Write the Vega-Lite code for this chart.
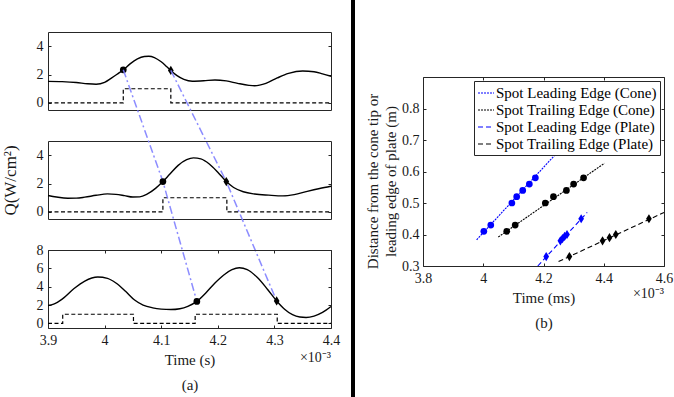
{
  "$schema": "https://vega.github.io/schema/vega-lite/v6.json",
  "background": "white",
  "padding": 0,
  "config": {
    "font": "Liberation Serif",
    "view": {"stroke": "#262626", "strokeWidth": 1},
    "axis": {"domain": false, "grid": false, "ticks": true, "tickSize": -3, "tickColor": "#262626", "tickWidth": 1, "labelFont": "Liberation Serif", "labelFontSize": 14, "labelColor": "#1a1a1a", "titleFont": "Liberation Serif", "titleFontSize": 15, "titleFontWeight": "normal", "titleColor": "#1a1a1a", "format": "~g", "labelFlush": false, "labelOverlap": false},
    "legend": {"orient": "top-right", "offset": 4, "strokeColor": "#262626", "fillColor": "white", "padding": 3, "labelFont": "Liberation Serif", "labelFontSize": 15, "labelColor": "black", "symbolType": "stroke", "symbolSize": 256, "rowPadding": 0, "symbolStrokeWidth": 1.2, "labelOffset": 1, "labelLimit": 400, "cornerRadius": 0}
  },
  "datasets": {
    "curves": [
      {"p": "top", "x": 3.900, "y": 1.52}, {"p": "top", "x": 3.925, "y": 1.50}, {"p": "top", "x": 3.950, "y": 1.44}, {"p": "top", "x": 3.970, "y": 1.35}, {"p": "top", "x": 3.985, "y": 1.32}, {"p": "top", "x": 4.000, "y": 1.45}, {"p": "top", "x": 4.012, "y": 1.75}, {"p": "top", "x": 4.022, "y": 2.02}, {"p": "top", "x": 4.033, "y": 2.33}, {"p": "top", "x": 4.045, "y": 2.75}, {"p": "top", "x": 4.058, "y": 3.10}, {"p": "top", "x": 4.070, "y": 3.27}, {"p": "top", "x": 4.078, "y": 3.29}, {"p": "top", "x": 4.088, "y": 3.20}, {"p": "top", "x": 4.100, "y": 2.90}, {"p": "top", "x": 4.110, "y": 2.55}, {"p": "top", "x": 4.117, "y": 2.29}, {"p": "top", "x": 4.128, "y": 1.92}, {"p": "top", "x": 4.140, "y": 1.66}, {"p": "top", "x": 4.155, "y": 1.53}, {"p": "top", "x": 4.175, "y": 1.56}, {"p": "top", "x": 4.195, "y": 1.62}, {"p": "top", "x": 4.215, "y": 1.55}, {"p": "top", "x": 4.235, "y": 1.38}, {"p": "top", "x": 4.255, "y": 1.24}, {"p": "top", "x": 4.265, "y": 1.21}, {"p": "top", "x": 4.285, "y": 1.38}, {"p": "top", "x": 4.305, "y": 1.76}, {"p": "top", "x": 4.325, "y": 2.08}, {"p": "top", "x": 4.350, "y": 2.25}, {"p": "top", "x": 4.370, "y": 2.20}, {"p": "top", "x": 4.385, "y": 2.05}, {"p": "top", "x": 4.400, "y": 1.88},
      {"p": "mid", "x": 3.900, "y": 1.16}, {"p": "mid", "x": 3.915, "y": 1.05}, {"p": "mid", "x": 3.935, "y": 0.96}, {"p": "mid", "x": 3.950, "y": 0.97}, {"p": "mid", "x": 3.965, "y": 1.04}, {"p": "mid", "x": 3.985, "y": 1.17}, {"p": "mid", "x": 4.005, "y": 1.27}, {"p": "mid", "x": 4.020, "y": 1.24}, {"p": "mid", "x": 4.035, "y": 1.15}, {"p": "mid", "x": 4.050, "y": 1.05}, {"p": "mid", "x": 4.062, "y": 1.06}, {"p": "mid", "x": 4.075, "y": 1.25}, {"p": "mid", "x": 4.090, "y": 1.66}, {"p": "mid", "x": 4.103, "y": 2.14}, {"p": "mid", "x": 4.115, "y": 2.65}, {"p": "mid", "x": 4.130, "y": 3.28}, {"p": "mid", "x": 4.145, "y": 3.68}, {"p": "mid", "x": 4.157, "y": 3.81}, {"p": "mid", "x": 4.170, "y": 3.74}, {"p": "mid", "x": 4.185, "y": 3.38}, {"p": "mid", "x": 4.200, "y": 2.80}, {"p": "mid", "x": 4.215, "y": 2.14}, {"p": "mid", "x": 4.228, "y": 1.72}, {"p": "mid", "x": 4.245, "y": 1.42}, {"p": "mid", "x": 4.265, "y": 1.26}, {"p": "mid", "x": 4.290, "y": 1.18}, {"p": "mid", "x": 4.315, "y": 1.13}, {"p": "mid", "x": 4.335, "y": 1.22}, {"p": "mid", "x": 4.358, "y": 1.45}, {"p": "mid", "x": 4.380, "y": 1.65}, {"p": "mid", "x": 4.400, "y": 1.81},
      {"p": "bot", "x": 3.900, "y": 1.95}, {"p": "bot", "x": 3.910, "y": 2.10}, {"p": "bot", "x": 3.925, "y": 2.65}, {"p": "bot", "x": 3.946, "y": 3.80}, {"p": "bot", "x": 3.965, "y": 4.62}, {"p": "bot", "x": 3.988, "y": 5.05}, {"p": "bot", "x": 4.005, "y": 4.90}, {"p": "bot", "x": 4.020, "y": 4.40}, {"p": "bot", "x": 4.037, "y": 3.50}, {"p": "bot", "x": 4.053, "y": 2.55}, {"p": "bot", "x": 4.068, "y": 2.00}, {"p": "bot", "x": 4.085, "y": 1.70}, {"p": "bot", "x": 4.100, "y": 1.56}, {"p": "bot", "x": 4.117, "y": 1.51}, {"p": "bot", "x": 4.133, "y": 1.60}, {"p": "bot", "x": 4.147, "y": 1.86}, {"p": "bot", "x": 4.163, "y": 2.40}, {"p": "bot", "x": 4.180, "y": 3.40}, {"p": "bot", "x": 4.195, "y": 4.40}, {"p": "bot", "x": 4.210, "y": 5.25}, {"p": "bot", "x": 4.225, "y": 5.85}, {"p": "bot", "x": 4.238, "y": 6.06}, {"p": "bot", "x": 4.252, "y": 5.85}, {"p": "bot", "x": 4.270, "y": 5.00}, {"p": "bot", "x": 4.288, "y": 3.70}, {"p": "bot", "x": 4.304, "y": 2.45}, {"p": "bot", "x": 4.318, "y": 1.55}, {"p": "bot", "x": 4.332, "y": 0.95}, {"p": "bot", "x": 4.345, "y": 0.70}, {"p": "bot", "x": 4.356, "y": 0.65}, {"p": "bot", "x": 4.370, "y": 0.80}, {"p": "bot", "x": 4.385, "y": 1.20}, {"p": "bot", "x": 4.400, "y": 1.84}
    ],
    "steps": [
      {"p": "top", "x": 3.9, "y": 0}, {"p": "top", "x": 4.033, "y": 1}, {"p": "top", "x": 4.117, "y": 0}, {"p": "top", "x": 4.4, "y": 0},
      {"p": "mid", "x": 3.9, "y": 0}, {"p": "mid", "x": 4.103, "y": 1}, {"p": "mid", "x": 4.216, "y": 0}, {"p": "mid", "x": 4.4, "y": 0},
      {"p": "bot", "x": 3.9, "y": 0}, {"p": "bot", "x": 3.926, "y": 1}, {"p": "bot", "x": 4.051, "y": 0}, {"p": "bot", "x": 4.16, "y": 1}, {"p": "bot", "x": 4.305, "y": 0}, {"p": "bot", "x": 4.4, "y": 0}
    ],
    "dots": [
      {"p": "top", "x": 4.033, "y": 2.33, "s": "circle"}, {"p": "top", "x": 4.117, "y": 2.29, "s": "diamond"},
      {"p": "mid", "x": 4.103, "y": 2.14, "s": "circle"}, {"p": "mid", "x": 4.215, "y": 2.14, "s": "diamond"},
      {"p": "bot", "x": 4.163, "y": 2.40, "s": "circle"}, {"p": "bot", "x": 4.304, "y": 2.45, "s": "diamond"}
    ],
    "links": [
      {"id": "a", "x": 4.033, "y": 10.02}, {"id": "a", "x": 4.103, "y": 2.14}, {"id": "a", "x": 4.163, "y": -6.31},
      {"id": "b", "x": 4.117, "y": 9.98}, {"id": "b", "x": 4.215, "y": 2.14}, {"id": "b", "x": 4.304, "y": -6.28}
    ],
    "fits": [
      {"series": "Spot Leading Edge (Cone)", "x": 3.978, "y": 0.383}, {"series": "Spot Leading Edge (Cone)", "x": 4.252, "y": 0.667},
      {"series": "Spot Trailing Edge (Cone)", "x": 4.05, "y": 0.392}, {"series": "Spot Trailing Edge (Cone)", "x": 4.402, "y": 0.626},
      {"series": "Spot Leading Edge (Plate)", "x": 4.181, "y": 0.30}, {"series": "Spot Leading Edge (Plate)", "x": 4.345, "y": 0.47},
      {"series": "Spot Trailing Edge (Plate)", "x": 4.25, "y": 0.314}, {"series": "Spot Trailing Edge (Plate)", "x": 4.6, "y": 0.47}
    ],
    "meas": [
      {"series": "Spot Leading Edge (Cone)", "g": "cone", "x": 4.002, "y": 0.41}, {"series": "Spot Leading Edge (Cone)", "g": "cone", "x": 4.025, "y": 0.43}, {"series": "Spot Leading Edge (Cone)", "g": "cone", "x": 4.095, "y": 0.50}, {"series": "Spot Leading Edge (Cone)", "g": "cone", "x": 4.111, "y": 0.52}, {"series": "Spot Leading Edge (Cone)", "g": "cone", "x": 4.131, "y": 0.54}, {"series": "Spot Leading Edge (Cone)", "g": "cone", "x": 4.153, "y": 0.56}, {"series": "Spot Leading Edge (Cone)", "g": "cone", "x": 4.173, "y": 0.58},
      {"series": "Spot Trailing Edge (Cone)", "g": "cone", "x": 4.078, "y": 0.41}, {"series": "Spot Trailing Edge (Cone)", "g": "cone", "x": 4.106, "y": 0.43}, {"series": "Spot Trailing Edge (Cone)", "g": "cone", "x": 4.206, "y": 0.50}, {"series": "Spot Trailing Edge (Cone)", "g": "cone", "x": 4.233, "y": 0.52}, {"series": "Spot Trailing Edge (Cone)", "g": "cone", "x": 4.276, "y": 0.54}, {"series": "Spot Trailing Edge (Cone)", "g": "cone", "x": 4.300, "y": 0.56}, {"series": "Spot Trailing Edge (Cone)", "g": "cone", "x": 4.333, "y": 0.58},
      {"series": "Spot Leading Edge (Plate)", "g": "plate", "x": 4.209, "y": 0.33}, {"series": "Spot Leading Edge (Plate)", "g": "plate", "x": 4.256, "y": 0.38}, {"series": "Spot Leading Edge (Plate)", "g": "plate", "x": 4.263, "y": 0.387}, {"series": "Spot Leading Edge (Plate)", "g": "plate", "x": 4.270, "y": 0.394}, {"series": "Spot Leading Edge (Plate)", "g": "plate", "x": 4.278, "y": 0.40}, {"series": "Spot Leading Edge (Plate)", "g": "plate", "x": 4.325, "y": 0.45},
      {"series": "Spot Trailing Edge (Plate)", "g": "plate", "x": 4.286, "y": 0.33}, {"series": "Spot Trailing Edge (Plate)", "g": "plate", "x": 4.396, "y": 0.38}, {"series": "Spot Trailing Edge (Plate)", "g": "plate", "x": 4.419, "y": 0.39}, {"series": "Spot Trailing Edge (Plate)", "g": "plate", "x": 4.440, "y": 0.40}, {"series": "Spot Trailing Edge (Plate)", "g": "plate", "x": 4.550, "y": 0.45}
    ]
  },
  "bounds": "full",
  "spacing": 10,
  "resolve": {"scale": {"color": "independent", "strokeDash": "independent", "fill": "independent", "shape": "independent", "size": "independent"}},
  "hconcat": [
    {
      "bounds": "flush",
      "spacing": 31,
      "resolve": {"scale": {"shape": "independent", "size": "independent"}},
      "vconcat": [
        {"width": 283, "height": 1, "data": {"values": []}, "mark": "point", "view": {"stroke": null}},
        {
          "width": 283, "height": 78,
          "layer": [
            {"data": {"name": "steps"}, "transform": [{"filter": "datum.p === 'top'"}],
             "mark": {"type": "line", "interpolate": "step-after", "color": "black", "strokeWidth": 1.2, "strokeDash": [4, 2.5]},
             "encoding": {
               "x": {"field": "x", "type": "quantitative", "scale": {"domain": [3.9, 4.4], "nice": false, "zero": false}, "axis": null},
               "y": {"field": "y", "type": "quantitative", "scale": {"domain": [-0.5, 5], "nice": false, "zero": false}, "axis": {"orient": "left", "values": [0, 2, 4], "title": null, "labelPadding": 8}}}},
            {"data": {"name": "curves"}, "transform": [{"filter": "datum.p === 'top'"}],
             "mark": {"type": "line", "interpolate": "monotone", "color": "black", "strokeWidth": 1.4},
             "encoding": {
               "x": {"field": "x", "type": "quantitative", "axis": null},
               "y": {"field": "y", "type": "quantitative", "axis": {"orient": "right", "values": [0, 2, 4], "labels": false, "title": null}}}},
            {"data": {"name": "dots"}, "transform": [{"filter": "datum.p === 'top'"}],
             "mark": {"type": "point", "filled": true, "color": "black", "opacity": 1},
             "encoding": {
               "x": {"field": "x", "type": "quantitative", "axis": null},
               "y": {"field": "y", "type": "quantitative", "axis": null},
               "shape": {"field": "s", "type": "nominal", "scale": {"domain": ["circle", "diamond"], "range": ["circle", "M0,-1L0.62,0L0,1L-0.62,0Z"]}, "legend": null},
               "size": {"field": "s", "type": "nominal", "scale": {"domain": ["circle", "diamond"], "range": [45, 85]}, "legend": null}}}
          ],
          "resolve": {"axis": {"y": "independent"}}
        },
        {
          "width": 283, "height": 78,
          "layer": [
            {"data": {"name": "steps"}, "transform": [{"filter": "datum.p === 'mid'"}],
             "mark": {"type": "line", "interpolate": "step-after", "color": "black", "strokeWidth": 1.2, "strokeDash": [4, 2.5]},
             "encoding": {
               "x": {"field": "x", "type": "quantitative", "scale": {"domain": [3.9, 4.4], "nice": false, "zero": false}, "axis": null},
               "y": {"field": "y", "type": "quantitative", "scale": {"domain": [-0.5, 5], "nice": false, "zero": false}, "axis": {"orient": "left", "values": [0, 2, 4], "title": "Q(W/cm²)", "titleFontSize": 17, "titlePadding": 17, "labelPadding": 8}}}},
            {"data": {"name": "curves"}, "transform": [{"filter": "datum.p === 'mid'"}],
             "mark": {"type": "line", "interpolate": "monotone", "color": "black", "strokeWidth": 1.4},
             "encoding": {
               "x": {"field": "x", "type": "quantitative", "axis": null},
               "y": {"field": "y", "type": "quantitative", "axis": {"orient": "right", "values": [0, 2, 4], "labels": false, "title": null}}}},
            {"data": {"name": "links"},
             "mark": {"type": "line", "color": "#7f7fff", "strokeWidth": 1.5, "strokeDash": [8, 3, 2, 3], "opacity": 0.9},
             "encoding": {
               "x": {"field": "x", "type": "quantitative", "axis": null},
               "y": {"field": "y", "type": "quantitative", "axis": null},
               "detail": {"field": "id", "type": "nominal"}}},
            {"data": {"name": "dots"}, "transform": [{"filter": "datum.p === 'mid'"}],
             "mark": {"type": "point", "filled": true, "color": "black", "opacity": 1},
             "encoding": {
               "x": {"field": "x", "type": "quantitative", "axis": null},
               "y": {"field": "y", "type": "quantitative", "axis": null},
               "shape": {"field": "s", "type": "nominal", "scale": {"domain": ["circle", "diamond"], "range": ["circle", "M0,-1L0.62,0L0,1L-0.62,0Z"]}, "legend": null},
               "size": {"field": "s", "type": "nominal", "scale": {"domain": ["circle", "diamond"], "range": [45, 85]}, "legend": null}}}
          ],
          "resolve": {"axis": {"y": "independent"}}
        },
        {
          "width": 283, "height": 78,
          "layer": [
            {"data": {"name": "steps"}, "transform": [{"filter": "datum.p === 'bot'"}],
             "mark": {"type": "line", "interpolate": "step-after", "color": "black", "strokeWidth": 1.2, "strokeDash": [4, 2.5]},
             "encoding": {
               "x": {"field": "x", "type": "quantitative", "scale": {"domain": [3.9, 4.4], "nice": false, "zero": false}, "axis": {"orient": "bottom", "values": [3.9, 4, 4.1, 4.2, 4.3, 4.4], "title": ["Time (s)", "(a)"], "titleLineHeight": 25, "titlePadding": 5, "labelPadding": 8}},
               "y": {"field": "y", "type": "quantitative", "scale": {"domain": [-0.5, 8], "nice": false, "zero": false}, "axis": {"orient": "left", "values": [0, 2, 4, 6, 8], "title": null, "labelPadding": 8}}}},
            {"data": {"name": "curves"}, "transform": [{"filter": "datum.p === 'bot'"}],
             "mark": {"type": "line", "interpolate": "monotone", "color": "black", "strokeWidth": 1.4},
             "encoding": {
               "x": {"field": "x", "type": "quantitative", "axis": {"orient": "top", "values": [3.9, 4, 4.1, 4.2, 4.3, 4.4], "labels": false, "title": null}},
               "y": {"field": "y", "type": "quantitative", "axis": {"orient": "right", "values": [0, 2, 4, 6, 8], "labels": false, "title": null}}}},
            {"data": {"name": "dots"}, "transform": [{"filter": "datum.p === 'bot'"}],
             "mark": {"type": "point", "filled": true, "color": "black", "opacity": 1},
             "encoding": {
               "x": {"field": "x", "type": "quantitative", "axis": null},
               "y": {"field": "y", "type": "quantitative", "axis": null},
               "shape": {"field": "s", "type": "nominal", "scale": {"domain": ["circle", "diamond"], "range": ["circle", "M0,-1L0.62,0L0,1L-0.62,0Z"]}, "legend": null},
               "size": {"field": "s", "type": "nominal", "scale": {"domain": ["circle", "diamond"], "range": [45, 85]}, "legend": null}}},
            {"data": {"values": [{"t": "×10⁻³"}]},
             "mark": {"type": "text", "align": "right", "baseline": "top", "dy": 23, "fontSize": 14, "color": "#1a1a1a"},
             "encoding": {
               "x": {"datum": 4.4, "axis": null},
               "y": {"datum": -0.5, "axis": null},
               "text": {"field": "t"}}}
          ],
          "resolve": {"axis": {"x": "independent", "y": "independent"}}
        }
      ]
    },
    {"width": 4, "height": 397, "data": {"values": [{"k": 1}]}, "mark": {"type": "rect", "color": "black"}, "encoding": {}, "view": {"stroke": null, "fill": "black"}},
    {
      "bounds": "flush",
      "spacing": 76,
      "resolve": {"scale": {"color": "independent", "strokeDash": "independent", "fill": "independent", "shape": "independent", "size": "independent"}},
      "vconcat": [
        {"width": 241, "height": 1, "data": {"values": []}, "mark": "point", "view": {"stroke": null}},
        {
          "width": 241, "height": 189,
          "layer": [
            {"data": {"name": "fits"},
             "mark": {"type": "line", "strokeWidth": 1.1},
             "encoding": {
               "x": {"field": "x", "type": "quantitative", "scale": {"domain": [3.8, 4.6], "nice": false, "zero": false}, "axis": {"orient": "bottom", "values": [3.8, 4, 4.2, 4.4, 4.6], "title": ["Time (ms)", "(b)"], "titleLineHeight": 25, "titlePadding": 5, "labelPadding": 8}},
               "y": {"field": "y", "type": "quantitative", "scale": {"domain": [0.3, 0.9], "nice": false, "zero": false}, "axis": {"orient": "left", "values": [0.3, 0.4, 0.5, 0.6, 0.7, 0.8], "title": ["Distance from the cone tip or", "leading edge of plate (m)"], "titleLineHeight": 18, "titlePadding": 3, "titleY": 104, "labelPadding": 7}},
               "color": {"field": "series", "type": "nominal", "scale": {"domain": ["Spot Leading Edge (Cone)", "Spot Trailing Edge (Cone)", "Spot Leading Edge (Plate)", "Spot Trailing Edge (Plate)"], "range": ["#0000ff", "#000000", "#0000ff", "#000000"]}, "legend": {"title": null}},
               "strokeDash": {"field": "series", "type": "nominal", "scale": {"domain": ["Spot Leading Edge (Cone)", "Spot Trailing Edge (Cone)", "Spot Leading Edge (Plate)", "Spot Trailing Edge (Plate)"], "range": [[2, 1], [2, 1], [5, 3], [5, 3]]}, "legend": {"title": null}}}},
            {"data": {"name": "meas"},
             "mark": {"type": "point", "filled": true, "opacity": 1, "strokeWidth": 0},
             "encoding": {
               "x": {"field": "x", "type": "quantitative", "axis": null},
               "y": {"field": "y", "type": "quantitative", "axis": null},
               "fill": {"field": "series", "type": "nominal", "scale": {"domain": ["Spot Leading Edge (Cone)", "Spot Trailing Edge (Cone)", "Spot Leading Edge (Plate)", "Spot Trailing Edge (Plate)"], "range": ["#0000ff", "#000000", "#0000ff", "#000000"]}, "legend": null},
               "shape": {"field": "g", "type": "nominal", "scale": {"domain": ["cone", "plate"], "range": ["circle", "M0,-1L0.62,0L0,1L-0.62,0Z"]}, "legend": null},
               "size": {"field": "g", "type": "nominal", "scale": {"domain": ["cone", "plate"], "range": [45, 85]}, "legend": null}}},
            {"data": {"name": "fits"},
             "mark": {"type": "point", "opacity": 0},
             "encoding": {
               "x": {"field": "x", "type": "quantitative", "axis": {"orient": "top", "values": [3.8, 4, 4.2, 4.4, 4.6], "labels": false, "title": null}},
               "y": {"field": "y", "type": "quantitative", "axis": {"orient": "right", "values": [0.3, 0.4, 0.5, 0.6, 0.7, 0.8], "labels": false, "title": null}}}},
            {"data": {"values": [{"t": "×10⁻³"}]},
             "mark": {"type": "text", "align": "right", "baseline": "top", "dy": 21, "fontSize": 14, "color": "#1a1a1a"},
             "encoding": {
               "x": {"datum": 4.6, "axis": null},
               "y": {"datum": 0.3, "axis": null},
               "text": {"field": "t"}}}
          ],
          "resolve": {"axis": {"x": "independent", "y": "independent"}}
        }
      ]
    }
  ]
}
